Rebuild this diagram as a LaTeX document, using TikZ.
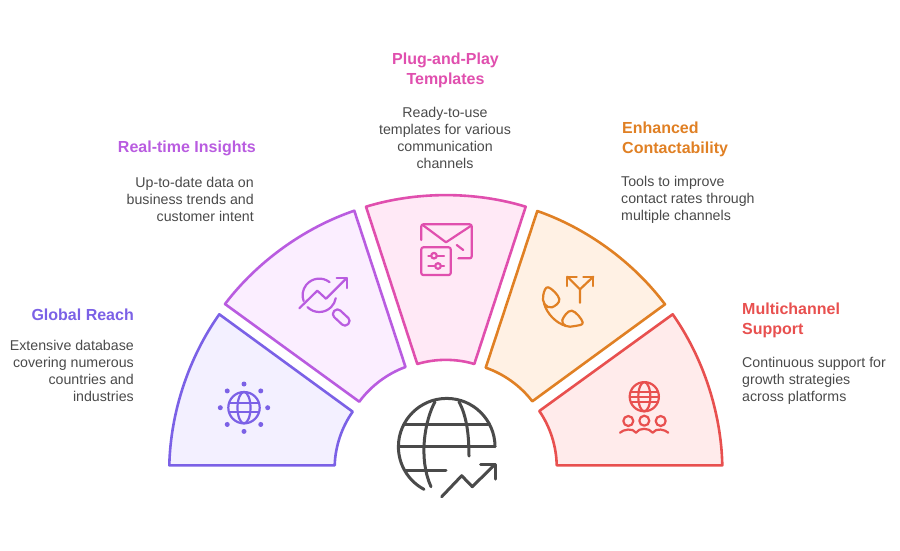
\documentclass[tikz,border=0pt]{standalone}
\usepackage{fontspec}
\setmainfont{Liberation Sans}
\definecolor{violetline}{HTML}{7B61E6}
\definecolor{violetfill}{HTML}{F3F0FF}
\definecolor{purpleline}{HTML}{B95CE0}
\definecolor{purplefill}{HTML}{FBEEFF}
\definecolor{pinkline}{HTML}{E04FAE}
\definecolor{pinkfill}{HTML}{FFE9F6}
\definecolor{orangeline}{HTML}{E08024}
\definecolor{orangefill}{HTML}{FFF1E4}
\definecolor{redline}{HTML}{E8504F}
\definecolor{redfill}{HTML}{FFEBEB}
\definecolor{greytext}{HTML}{4A4A4A}

\begin{document}
\begin{tikzpicture}
    [
    x=1pt, y=1pt, yscale=-1,
    sector/.style={line width=2.6pt, line join=round},
    icon/.style={line width=2.2pt, line cap=round, line join=round},
    bigicon/.style={line width=3pt, line cap=round, line join=round, greytext},
    outer/.style={bend right=17, looseness=0.85},
    inner/.style={bend left=17, looseness=0.85},
    title/.style={inner sep=0pt, font=\fontsize{16}{20}\selectfont\bfseries},
    desc/.style={inner sep=0pt, text=greytext, font=\fontsize{14.2}{17}\selectfont},
    ]

    \useasboundingbox (0,0) rectangle (900,550);

    \draw[sector, draw=violetline, fill=violetfill]
    (169.3,465.3) to[outer] (219.3,314.3) -- (352.7,411.7) to[inner] (334.7,465.3) -- cycle;

    \draw[sector, draw=purpleline, fill=purplefill]
    (225,304) to[outer] (354.3,210.7) -- (405.5,367) to[inner] (359.3,401.7) -- cycle;

    \draw[sector, draw=pinkline, fill=pinkfill]
    (366,206.7) to[outer] (525.7,206.7) -- (474.3,364) to[inner] (417.3,364) -- cycle;

    \draw[sector, draw=orangeline, fill=orangefill]
    (537.3,211) to[outer] (665,304.3) -- (532.3,401.3) to[inner] (485.7,367.7) -- cycle;

    \draw[sector, draw=redline, fill=redfill]
    (672.7,314.3) to[outer] (722.3,465.3) -- (556.7,465.3) to[inner] (539.3,411) -- cycle;

    \node[title, text=violetline, anchor=north east] (title_global) at (134,309)
    {Global Reach};
    \node[desc, align=right, anchor=north east] (desc_global) at (134,340.3)
    {Extensive database\\covering numerous\\countries and\\industries};

    \node[title, text=purpleline, anchor=north east] (title_insights) at (256,141)
    {Real-time Insights};
    \node[desc, align=right, anchor=north east] (desc_insights) at (254,177.3)
    {Up-to-date data on\\business trends and\\customer intent};

    \node[title, text=pinkline, align=center, anchor=north] (title_templates) at (445.5,53)
    {Plug-and-Play\\Templates};
    \node[desc, align=center, anchor=north] (desc_templates) at (445,107.3)
    {Ready-to-use\\templates for various\\communication\\channels};

    \node[title, text=orangeline, align=left, anchor=north west] (title_contact) at (622,122)
    {Enhanced\\Contactability};
    \node[desc, align=left, anchor=north west] (desc_contact) at (621,176.3)
    {Tools to improve\\contact rates through\\multiple channels};

    \node[title, text=redline, align=left, anchor=north west] (title_support) at (742,303)
    {Multichannel\\Support};
    \node[desc, align=left, anchor=north west] (desc_support) at (742,357.3)
    {Continuous support for\\growth strategies\\across platforms};

    \draw[icon, violetline] (244,407.7) circle[radius=15.7];
    \draw[icon, violetline] (244,407.7) ellipse[x radius=6.5, y radius=15.7];
    \draw[icon, violetline] (229.5,403.2) -- (258.5,403.2) (229.5,412.2) -- (258.5,412.2);
    \foreach \a in {0,45,...,315}
    \fill[violetline] (244,407.7) ++(\a:23.7) circle[radius=2.5];

    \draw[icon, purpleline] (319.3,295.3) ++(-52:16.7) arc[start angle=-52, end angle=-200, radius=16.7];
    \draw[icon, purpleline] (319.3,295.3) ++(135:16.7) arc[start angle=135, end angle=10, radius=16.7];
    \draw[icon, purpleline] (299.3,308.3) -- (317.3,290.7) -- (326,298.7) -- (346.7,278);
    \draw[icon, purpleline] (336.7,278) -- (346.7,278) -- (346.7,288);
    \draw[icon, purpleline, rounded corners=4pt, rotate around={43:(341.2,317.5)}]
    (331.7,313) rectangle (350.7,322);

    \draw[icon, pinkline, rounded corners=2pt]
    (421.3,240) -- (421.3,224.3) -- (471.7,224.3) -- (471.7,258.3) -- (458.3,258.3);
    \draw[icon, pinkline] (422.7,225) -- (446,242.3) -- (470.7,226);
    \draw[icon, pinkline] (456.7,245) -- (463.3,250);
    \draw[icon, pinkline, rounded corners=2pt] (421.3,247.3) rectangle (450.7,275);
    \draw[icon, pinkline] (428.3,255.7) -- (444,255.7) (428.3,266) -- (444,266);
    \draw[icon, pinkline, fill=pinkfill] (434,255.7) circle[radius=2.8];
    \draw[icon, pinkline, fill=pinkfill] (438,266) circle[radius=2.8];

    \draw[icon, orangeline] (580,302.7) -- (580,289.3) -- (567.3,276.7);
    \draw[icon, orangeline] (580,289.3) -- (593.3,276.7);
    \draw[icon, orangeline] (567.3,286) -- (567.3,276.7) -- (576.7,276.7);
    \draw[icon, orangeline] (583.3,276.7) -- (593.3,276.7) -- (593.3,286);
    \draw[icon, orangeline] plot[smooth cycle, tension=0.7] coordinates
    {(543.3,295) (548.3,287.3) (559.3,299) (552,307.3) (544.5,304)};
    \draw[icon, orangeline] plot[smooth cycle, tension=0.7] coordinates
    {(562.3,320) (571.7,310.7) (582.7,322.3) (575,326) (566,326)};
    \draw[icon, orangeline] (544,303.3) .. controls (547,314) and (556,323) .. (566,326);

    \draw[icon, redline] (644.3,396.7) circle[radius=14.6];
    \draw[icon, redline] (644.3,396.7) ellipse[x radius=6, y radius=14.6];
    \draw[icon, redline] (631,391.7) -- (657.6,391.7) (630,396.7) -- (658.6,396.7) (631,401.7) -- (657.6,401.7);
    \draw[icon, redline] (628.3,421) circle[radius=5];
    \draw[icon, redline] (644.3,420.7) circle[radius=5];
    \draw[icon, redline] (660.7,421) circle[radius=5];
    \draw[icon, redline] (620,432.7) .. controls (623,429.5) and (633,427.5) .. (636,432.7)
    .. controls (639,427.5) and (649,427.5) .. (652.7,432.7)
    .. controls (656,427.5) and (665,429.5) .. (668.3,432.7);

    \draw[bigicon] (495,446.7) arc[start angle=0, end angle=-242, radius=48.3];
    \draw[bigicon] (403.5,424.3) -- (488.5,424.3);
    \draw[bigicon] (398.5,446.7) -- (495,446.7);
    \draw[bigicon] (405,470) -- (446,470);
    \draw[bigicon] (435,401.7) .. controls (425,420) and (418,458) .. (431,486.7);
    \draw[bigicon] (459,401.7) .. controls (466,415) and (469,432) .. (469,456);
    \draw[bigicon] (441.7,496.7) -- (461.7,475.7) -- (472.3,486.7) -- (495,464.3);
    \draw[bigicon] (480.7,464.3) -- (495,464.3) -- (495,479);
\end{tikzpicture}
\end{document}
